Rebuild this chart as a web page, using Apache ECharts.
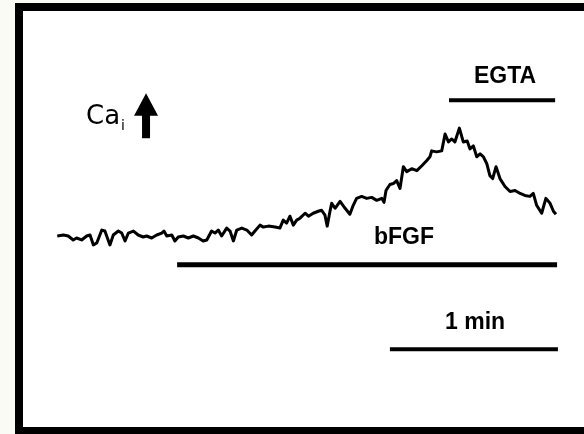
<!DOCTYPE html>
<html>
<head>
<meta charset="utf-8">
<script src="https://cdn.jsdelivr.net/npm/echarts@6/dist/echarts.min.js"></script>
<style>
  html, body { margin: 0; padding: 0; background: #fafbf5; }
  #chart { position: absolute; left: 15px; top: 3px; width: 569px; height: 431px; background: #fff; }
</style>
</head>
<body>
<div id="chart"></div>
<script>
// Ca trace: time (s) and signal (arbitrary units, baseline = 0)
const time = [
  0.1, 2.3, 4.0, 5.8, 7.0, 8.8, 10.6, 11.8, 13.0, 14.2, 16.0, 17.1, 18.9, 20.1, 21.9, 23.1,
  24.3, 25.5, 27.3, 29.0, 30.8, 32.0, 33.8, 35.6, 37.4, 38.2, 39.2, 41.0, 42.1, 43.3, 45.1, 46.9,
  48.7, 50.5, 52.2, 53.5, 55.2, 56.4, 57.6, 58.8, 60.6, 61.8, 63.0, 64.2, 66.0, 67.8, 69.5, 70.7,
  72.5, 73.7, 75.5, 77.9, 79.6, 80.8, 82.0, 83.2, 84.4, 85.6, 86.8, 88.6, 89.8, 91.5, 93.3, 94.5,
  95.7, 96.5, 97.5, 98.1, 99.3, 101.1, 102.9, 104.6, 105.8, 107.0, 108.8, 110.6, 112.4, 114.2, 116.0, 116.8,
  117.5, 118.9, 120.1, 121.3, 122.5, 123.7, 124.9, 126.7, 128.5, 130.3, 132.0, 133.2, 133.8, 135.6, 137.4, 138.6,
  139.8, 141.0, 142.1, 143.7, 145.1, 146.5, 147.5, 148.7, 149.9, 151.1, 152.3, 153.5, 154.6, 155.6, 156.8, 158.2,
  160.0, 161.8, 163.6, 165.4, 167.1, 168.9, 170.1, 171.3, 173.1, 174.6, 176.1, 177.3, 178.2
];
const signal = [
  0.0, 0.1, 0.0, -0.4, -0.2, -0.4, 0.0, 0.1, -0.9, -0.7, 0.6, 0.5, -0.9, 0.1, 0.5, 0.3,
  -0.5, 0.3, 0.5, 0.1, -0.1, 0.0, -0.2, 0.1, 0.3, 0.5, 0.0, 0.1, -0.5, -0.1, 0.0, -0.2,
  0.0, -0.2, -0.5, -0.4, 0.5, 0.3, 0.6, 0.0, 0.8, 0.5, -0.5, 0.6, 0.8, 0.6, 0.1, 0.5,
  1.1, 0.9, 1.0, 0.9, 0.8, 1.6, 1.3, 2.0, 1.1, 1.6, 1.8, 2.3, 2.0, 2.3, 2.5, 2.6,
  2.1, 1.0, 2.5, 3.3, 2.8, 3.5, 2.8, 2.2, 3.1, 3.8, 4.0, 3.8, 3.9, 3.6, 3.8, 3.4,
  4.6, 5.2, 5.3, 5.6, 4.8, 7.0, 6.5, 6.8, 6.6, 7.1, 7.6, 8.0, 8.6, 8.5, 8.6, 10.3,
  9.5, 9.8, 9.5, 10.9, 9.5, 9.6, 8.8, 9.1, 8.0, 8.3, 8.0, 7.3, 6.1, 5.8, 7.0, 5.8,
  5.0, 4.5, 4.6, 4.3, 4.1, 4.0, 4.3, 3.1, 2.3, 3.8, 3.3, 2.5, 2.2
];

// application bars: [start, end] in s and level
const bfgfSpan = [42.9, 178.6];
const bfgfLevel = -2.9;
const egtaSpan = [140.0, 177.9];
const egtaLevel = 13.7;
const scaleSpan = [118.9, 178.9]; // 1 min
const scaleLevel = -11.45;

// labels: [t, level, text]
const labels = [
  [160.0, 16.1, 'EGTA'],
  [123.9, -0.2, 'bFGF'],
  [149.3, -8.8, '1 min']
];
const arrowPos = [31.8, 12.15];

const chart = echarts.init(document.getElementById('chart'));

const barSeries = (span, level, width) => ({
  type: 'line',
  data: [[span[0], level], [span[1], level]],
  showSymbol: false,
  silent: true,
  lineStyle: { color: '#000', width: width, cap: 'butt' }
});

chart.setOption({
  animation: false,
  backgroundColor: '#fff',
  grid: { left: 42, top: 35, width: 504, height: 400 },
  xAxis: { type: 'value', min: 0, max: 180, show: false },
  yAxis: { type: 'value', min: -20, max: 20, show: false },
  graphic: [
    {
      type: 'rect',
      shape: { x: 4, y: 4, width: 620, height: 424 },
      style: { fill: 'none', stroke: '#000', lineWidth: 8 }
    },
    {
      type: 'text',
      left: 71,
      top: 101,
      style: {
        text: '{c|Ca}{i|i}',
        rich: {
          c: { fontFamily: 'DejaVu Sans', fontSize: 26, fill: '#000' },
          i: { fontFamily: 'DejaVu Sans', fontSize: 14, fill: '#000', padding: [18, 0, 0, 1] }
        }
      }
    }
  ],
  series: [
    {
      type: 'line',
      data: time.map((t, i) => [t, signal[i]]),
      showSymbol: false,
      silent: true,
      lineStyle: { color: '#000', width: 3, join: 'round' }
    },
    barSeries(bfgfSpan, bfgfLevel, 5),
    barSeries(egtaSpan, egtaLevel, 4),
    barSeries(scaleSpan, scaleLevel, 4),
    {
      type: 'scatter',
      data: [arrowPos],
      symbol: 'path://M12,0 L24,23 L16,23 L16,46 L8,46 L8,23 L0,23 Z',
      symbolSize: [24, 45],
      itemStyle: { color: '#000', opacity: 1 },
      silent: true
    },
    {
      type: 'scatter',
      data: labels,
      symbolSize: 0,
      silent: true,
      itemStyle: { opacity: 1 },
      label: {
        show: true,
        position: 'inside',
        formatter: p => p.value[2],
        fontFamily: 'Liberation Sans',
        fontWeight: 'bold',
        fontSize: 23,
        color: '#000',
        opacity: 1
      }
    }
  ]
});
</script>
</body>
</html>
